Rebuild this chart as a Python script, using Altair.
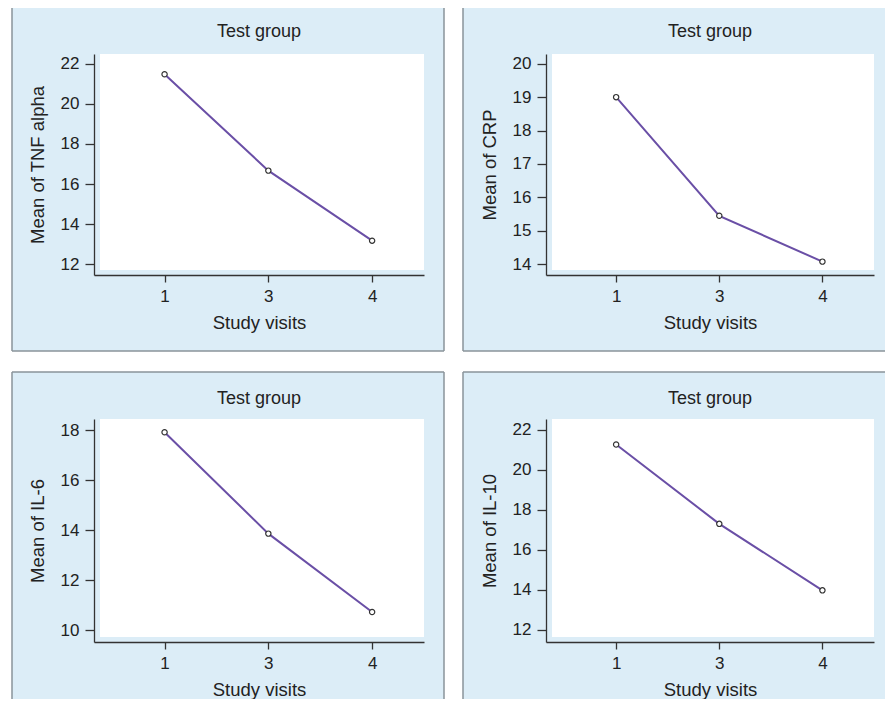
import altair as alt
import pandas as pd

# ---- data ----
visits = ["1", "3", "4"]
tnf_alpha = [21.47, 16.67, 13.18]
crp = [19.0, 15.45, 14.08]
il6 = [17.93, 13.87, 10.73]
il10 = [21.27, 17.3, 13.97]

panel_title = "Test group"
x_title = "Study visits"
y_titles = ["Mean of TNF alpha", "Mean of CRP", "Mean of IL-6", "Mean of IL-10"]
y_domains = [[11.47, 22.48], [13.68, 20.29], [9.53, 18.46], [11.385, 22.55]]
y_ticks = [[12, 14, 16, 18, 20, 22], [14, 15, 16, 17, 18, 19, 20],
           [10, 12, 14, 16, 18], [12, 14, 16, 18, 20, 22]]

FONT = "Liberation Sans"
BLUE = "#dcedf7"
EDGE = "#8a939a"
PURPLE = "#6a4fa6"
TEXT = "#222222"

label_expr = "[" + ",".join("'%s'" % v for v in visits) + "][datum.value]"


def panel(values, ytitle, ydom, yticks, w, h, frame, bottom_edge):
    df = pd.DataFrame({"pos": list(range(len(visits))), "visit": visits, "value": values})
    one = pd.DataFrame({"k": [0]})
    x1, x2, y1, y2 = frame

    xenc = alt.X("pos:Q", scale=alt.Scale(domain=[-0.68, 2.5], nice=False, zero=False),
                 axis=alt.Axis(values=[0, 1, 2], labelExpr=label_expr, title=x_title,
                               tickSize=7, labelPadding=6, titlePadding=9, grid=False,
                               zindex=2))
    yenc = alt.Y("value:Q", scale=alt.Scale(domain=ydom, nice=False, zero=False),
                 axis=alt.Axis(values=yticks, title=ytitle, tickSize=9, labelPadding=6,
                               titlePadding=13, grid=False, zindex=2))

    layers = [
        alt.Chart(one).mark_rect(color=BLUE, clip=False).encode(
            x=alt.value(x1), x2=alt.value(x2), y=alt.value(y1), y2=alt.value(y2)),
    ]
    layers.append(alt.Chart(one).mark_rule(color=EDGE, strokeWidth=1.5, clip=False).encode(
        x=alt.value(x1), x2=alt.value(x2), y=alt.value(y1)))
    layers.append(alt.Chart(one).mark_rule(color=EDGE, strokeWidth=1.5, clip=False).encode(
        x=alt.value(x1), y=alt.value(y1), y2=alt.value(y2)))
    layers.append(alt.Chart(one).mark_rule(color=EDGE, strokeWidth=1.5, clip=False).encode(
        x=alt.value(x2), y=alt.value(y1), y2=alt.value(y2)))
    if bottom_edge:
        layers.append(alt.Chart(one).mark_rule(color=EDGE, strokeWidth=1.5, clip=False).encode(
            x=alt.value(x1), x2=alt.value(x2), y=alt.value(y2)))
    layers.append(alt.Chart(one).mark_rect(color="white", clip=False).encode(
        x=alt.value(6), x2=alt.value(w), y=alt.value(0), y2=alt.value(h - 5)))
    layers.append(alt.Chart(df).mark_line(color=PURPLE, strokeWidth=2).encode(x=xenc, y=yenc))
    layers.append(alt.Chart(df).mark_point(shape="circle", filled=True, fill="white",
                                           stroke="#333333", strokeWidth=1.2, size=28,
                                           opacity=1).encode(x=xenc, y=yenc))
    return alt.layer(*layers).properties(
        width=w, height=h,
        title=alt.TitleParams(panel_title, fontSize=18, font=FONT, fontWeight="normal",
                              color=TEXT, offset=-37, zindex=2, frame="group"))


p1 = panel(tnf_alpha, y_titles[0], y_domains[0], y_ticks[0], 330, 221, (-82, 350, -49, 297), True)
p2 = panel(crp, y_titles[1], y_domains[1], y_ticks[1], 328, 221, (-83, 344, -49, 297), True)
p3 = panel(il6, y_titles[2], y_domains[2], y_ticks[2], 330, 223, (-82, 350, -47, 282), False)
p4 = panel(il10, y_titles[3], y_domains[3], y_ticks[3], 328, 223, (-83, 344, -47, 282), False)

chart = alt.concat(p1, p2, p3, p4, columns=2, spacing={"row": 144, "column": 122},
                   bounds="flush").properties(
    padding={"left": 3, "top": -4, "right": -6, "bottom": -3},
    background="white",
).configure_view(stroke=None).configure_axis(
    labelFont=FONT, titleFont=FONT, labelFontSize=17, titleFontSize=18.5,
    labelColor=TEXT, titleColor=TEXT, titleFontWeight="normal",
    domainColor="#333333", tickColor="#333333", domainWidth=1.3, tickWidth=1.3,
)

chart.save("out.html", embed_options={"renderer": "svg", "actions": False})
